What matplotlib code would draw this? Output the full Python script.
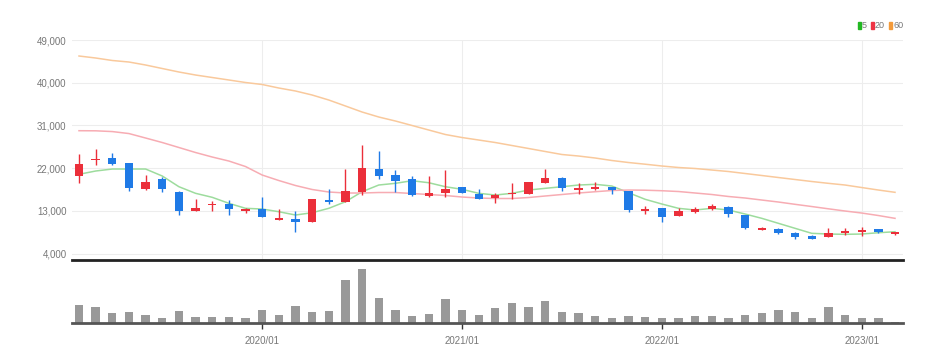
import matplotlib.pyplot as plt
from matplotlib.patches import Rectangle

# monthly candles, 2019/02 .. 2023/03
months = [f"{y}/{m:02d}" for y in range(2019, 2024) for m in range(1, 13)][1:51]

opens = [20300, 23800, 24050, 23000, 17600, 19700, 16900, 12950, 14150, 14350,
         13000, 13300, 11000, 11200, 10550, 15250, 14800, 17000, 21750, 20550,
         19650, 16200, 16700, 18100, 16550, 15650, 16550, 16550, 18900, 19850,
         17400, 17650, 17950, 17250, 13000, 13500, 11900, 12800, 13400, 13850,
         12100, 8950, 9100, 8250, 7700, 7550, 8250, 8550, 9100, 8050]
highs = [25000, 25950, 25100, 23000, 20550, 20050, 17250, 15400, 15050, 15250,
         13500, 15950, 13300, 12950, 15400, 17600, 21800, 26850, 25650, 21600,
         20350, 20350, 21600, 18100, 17550, 16800, 18800, 19150, 21750, 20050,
         18800, 19000, 18100, 17250, 14000, 13500, 13500, 13850, 14350, 14050,
         12100, 9550, 9450, 8600, 7900, 9300, 9450, 9500, 9250, 8600]
lows = [18900, 22650, 22650, 17150, 17400, 17000, 12100, 12950, 13000, 12100,
        12600, 11600, 11000, 8600, 10550, 14450, 14800, 16300, 19650, 17000,
        16200, 15950, 15850, 16800, 15500, 14700, 15400, 16450, 18900, 17250,
        16550, 17400, 16450, 12800, 12300, 10700, 11900, 12600, 13150, 11750,
        9250, 8850, 8100, 7050, 7000, 7550, 7900, 7750, 8400, 7900]
closes = [22850, 24000, 22850, 17850, 19150, 17550, 12950, 13650, 14350, 13400,
          13400, 11600, 11400, 10650, 15400, 14800, 17250, 21950, 20350, 19300,
          16300, 16700, 17550, 16800, 15500, 16250, 16800, 19150, 19850, 17750,
          17850, 18100, 17400, 13150, 13300, 11750, 12950, 13300, 14000, 12300,
          9300, 9450, 8400, 7400, 7100, 8250, 8750, 8950, 8550, 8450]

ma5 = [20690, 21385, 21807, 21807, 21807, 20331, 18076, 16684, 15841, 14576,
       13522, 13375, 12806, 12110, 12595, 13522, 14913, 17022, 18434, 18792,
       19340, 18919, 18076, 17528, 16684, 16326, 16684, 17380, 17738, 18076,
       18434, 18581, 18223, 16811, 15420, 14429, 13522, 13164, 13522, 13164,
       12321, 11414, 10360, 9306, 8252, 8105, 8042, 8105, 8379, 8590]
ma20 = [29880, 29860, 29700, 29280, 28340, 27390, 26340, 25285, 24335, 23490,
        22330, 20540, 19380, 18330, 17490, 16960, 16750, 16750, 16855, 16855,
        16645, 16435, 16225, 15905, 15695, 15590, 15590, 15800, 16120, 16435,
        16750, 17020, 17280, 17380, 17340, 17230, 17065, 16750, 16435, 16015,
        15695, 15270, 14850, 14365, 13900, 13420, 12955, 12530, 12005, 11410]
ma60 = [45627, 45205, 44680, 44360, 43730, 42990, 42255, 41620, 41095, 40570,
        40040, 39620, 38880, 38250, 37405, 36350, 35090, 33820, 32770, 31925,
        30980, 30030, 29080, 28445, 27920, 27390, 26760, 26130, 25495, 24865,
        24545, 24125, 23600, 23175, 22820, 22440, 22125, 21915, 21595, 21280,
        20860, 20440, 20015, 19595, 19175, 18790, 18435, 17905, 17380, 16895]

volume = [530, 480, 290, 330, 230, 150, 350, 180, 190, 190,
          150, 380, 230, 500, 340, 350, 1290, 1630, 750, 380,
          200, 280, 730, 380, 230, 450, 600, 480, 650, 330,
          300, 200, 150, 200, 180, 140, 150, 200, 200, 140,
          230, 300, 400, 330, 140, 480, 250, 140, 140, 25]

price_ticks = [4000, 13000, 22000, 31000, 40000, 49000]
year_labels = ["2020/01", "2021/01", "2022/01", "2023/01"]

UP = '#eb2f3a'
DOWN = '#1f7ae6'
plt.rcParams['font.family'] = ['Liberation Sans', 'DejaVu Sans']
fs = 7

fig = plt.figure(figsize=(9.48, 3.63), dpi=100)
ax = fig.add_axes([72/948, 1-260/363, 831/948, 220/363])
axv = fig.add_axes([72/948, 1-323/363, 831/948, 61/363], sharex=ax)

xs = list(range(len(months)))
year_pos = [months.index(l) for l in year_labels]

# candles
w = 0.5
for i in xs:
    o, h, l, c = opens[i], highs[i], lows[i], closes[i]
    col = UP if c >= o else DOWN
    ax.vlines(i, l, h, color=col, lw=1, zorder=3)
    bot, top = min(o, c), max(o, c)
    ax.add_patch(Rectangle((i - w/2, bot), w, max(top - bot, 120), color=col, zorder=4, lw=0))

ax.plot(xs, ma5, color='#9ddc9d', lw=1.1, zorder=2)
ax.plot(xs, ma20, color='#f7acb3', lw=1.1, zorder=2)
ax.plot(xs, ma60, color='#f9c99c', lw=1.1, zorder=2)

ax.set_ylim(2630, 49000)
ax.set_xlim(-0.42, len(months) - 0.52)
ax.set_yticks(price_ticks)
ax.set_yticklabels([f"{t:,}" for t in price_ticks], fontsize=fs, color='#777777')
ax.tick_params(axis='y', length=0, pad=4)
ax.tick_params(axis='x', length=0, labelbottom=False)
ax.set_xticks(year_pos)
ax.grid(True, color='#ededed', lw=0.8)
ax.set_axisbelow(True)
for s in ['top', 'right', 'left']:
    ax.spines[s].set_visible(False)
ax.spines['bottom'].set_color('#222222')
ax.spines['bottom'].set_linewidth(2)

# volume
axv.bar(xs, volume, width=0.5, color='#999999', zorder=2)
axv.set_ylim(0, max(volume) * 1.12)
axv.set_yticks([])
for s in ['top', 'right', 'left']:
    axv.spines[s].set_visible(False)
axv.spines['bottom'].set_color('#555555')
axv.spines['bottom'].set_linewidth(2)
axv.set_xticks(year_pos)
axv.set_xticklabels(year_labels, fontsize=fs, color='#777777')
axv.tick_params(axis='x', length=4, width=1, color='#333333', pad=5)

# legend top right
leg = [('5', '#22b822'), ('20', '#ee3344'), ('60', '#f39a3a')]
lx = 858
for lab, col in leg:
    fig.patches.append(Rectangle((lx/948, 1-29/363), 3/948, 7/363, color=col,
                                 transform=fig.transFigure, figure=fig))
    fig.text((lx+4)/948, 1-25.5/363, lab, fontsize=fs - 0.5, color='#777777', va='center')
    lx += 8 + 5*len(lab)

fig.savefig('out.png', dpi=100)
